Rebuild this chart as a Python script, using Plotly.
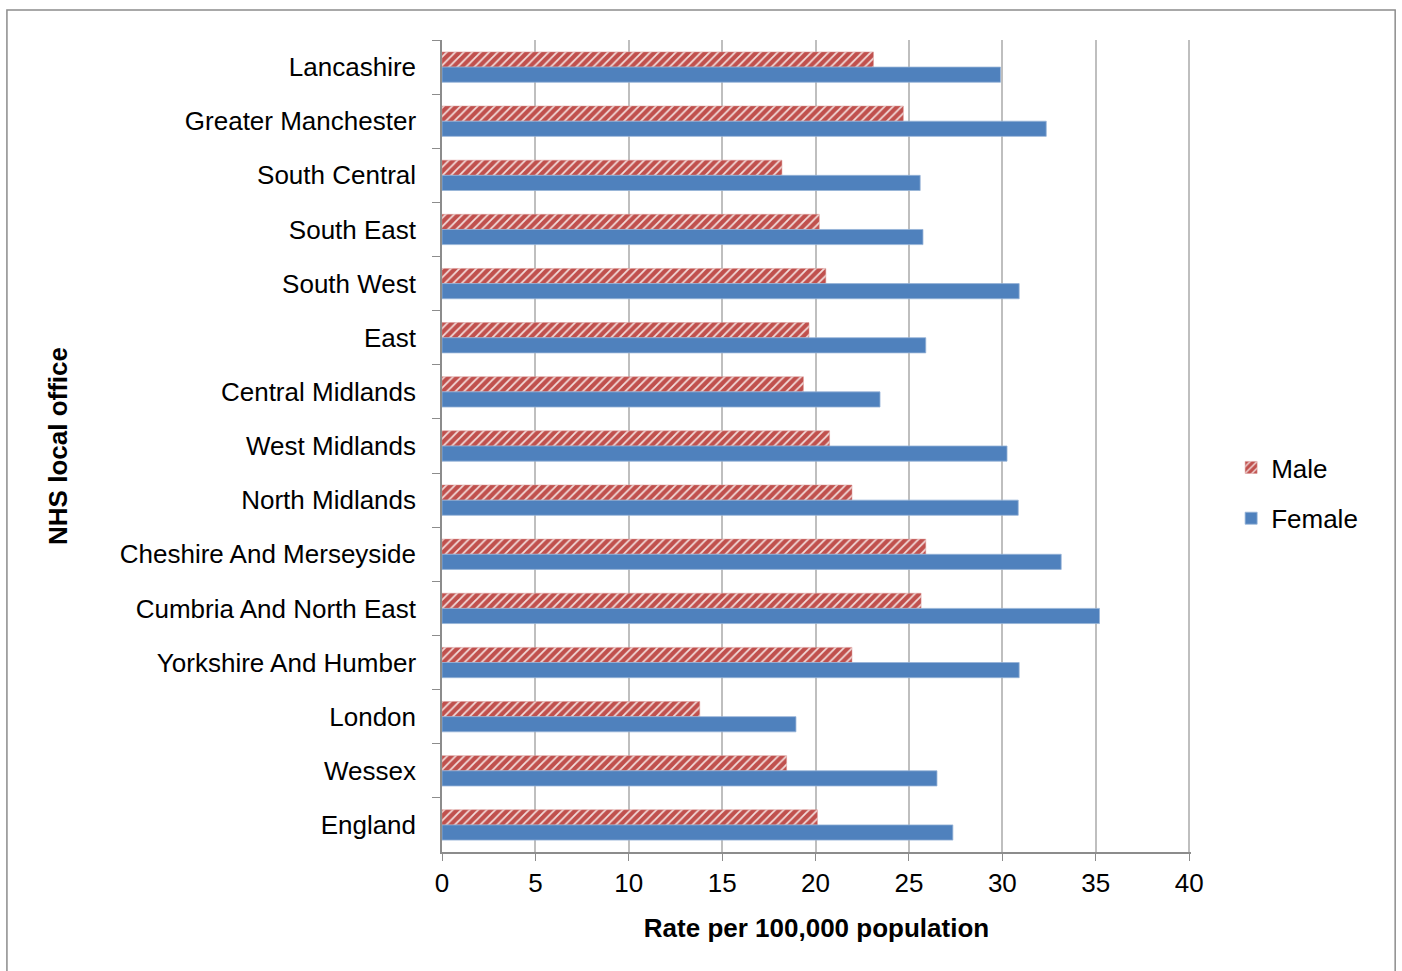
import plotly.graph_objects as go

categories = ["Lancashire", "Greater Manchester", "South Central", "South East", "South West",
              "East", "Central Midlands", "West Midlands", "North Midlands",
              "Cheshire And Merseyside", "Cumbria And North East", "Yorkshire And Humber",
              "London", "Wessex", "England"]
male = [23.1, 24.7, 18.2, 20.2, 20.55, 19.65, 19.35, 20.75, 21.95, 25.9, 25.65, 21.95, 13.8, 18.45, 20.1]
female = [29.9, 32.35, 25.6, 25.75, 30.9, 25.9, 23.45, 30.25, 30.85, 33.15, 35.2, 30.9, 18.95, 26.5, 27.35]
x_ticks = [0, 5, 10, 15, 20, 25, 30, 35, 40]

FONT = "Liberation Sans, Arial, sans-serif"
FS = 26

fig = go.Figure()
fig.add_trace(go.Bar(
    y=categories, x=male, orientation="h", name="Male", legendgroup="m",
    marker=dict(color="#C0504D",
                line=dict(color="#D99694", width=0.5),
                pattern=dict(shape="/", fgcolor="#F2DCDB", bgcolor="#C0504D",
                             size=6, solidity=0.3, fillmode="replace")),
))
fig.add_trace(go.Bar(
    y=categories, x=female, orientation="h", name="Female", legendgroup="f",
    marker=dict(color="#4F81BD", line=dict(color="#95B3D7", width=0.8)),
))

L, T, B = 442, 40, 119
PW = 747 * 40.1 / 40
R = 1402 - L - PW
PH = 971 - T - B

# outer chart border
fig.add_shape(type="rect", xref="paper", yref="paper",
              x0=(7 - L) / PW, x1=(1395 - L) / PW,
              y0=(852 - 975) / PH, y1=(852 - 10) / PH,
              line=dict(color="#8C8C8C", width=1.5), layer="below")

fig.update_layout(
    width=1402, height=971,
    margin=dict(l=L, r=R, t=T, b=B),
    paper_bgcolor="white", plot_bgcolor="white",
    barmode="group", bargap=0.44, bargroupgap=0,
    font=dict(family=FONT, size=FS, color="black"),
    showlegend=True,
    legend=dict(x=(1231 - L) / PW, y=(852 - 493) / PH, xanchor="left", yanchor="middle",
                font=dict(size=FS, family=FONT), itemwidth=30,
                tracegroupgap=14, bgcolor="rgba(0,0,0,0)"),
    xaxis=dict(range=[0, 40.1], tickvals=x_ticks, ticktext=[str(v) for v in x_ticks],
               showgrid=True, gridcolor="#BFBFBF", gridwidth=1.5,
               showline=True, linecolor="#8C8C8C", linewidth=1.5,
               ticks="outside", ticklen=7, tickcolor="#8C8C8C",
               zeroline=False, tickfont=dict(size=FS, family=FONT),
               title=dict(text="<b>Rate per 100,000 population</b>",
                          font=dict(size=FS, family=FONT), standoff=22)),
    yaxis=dict(autorange="reversed", type="category",
               showline=True, linecolor="#8C8C8C", linewidth=1.5,
               ticks="outside", ticklen=8, tickcolor="#8C8C8C", tickson="boundaries",
               showgrid=False, zeroline=False,
               ticklabelstandoff=19,
               tickfont=dict(size=FS, family=FONT),
               title=dict(text="<b>NHS local office</b>",
                          font=dict(size=FS, family=FONT), standoff=45)),
)

fig.write_html("out.html")
